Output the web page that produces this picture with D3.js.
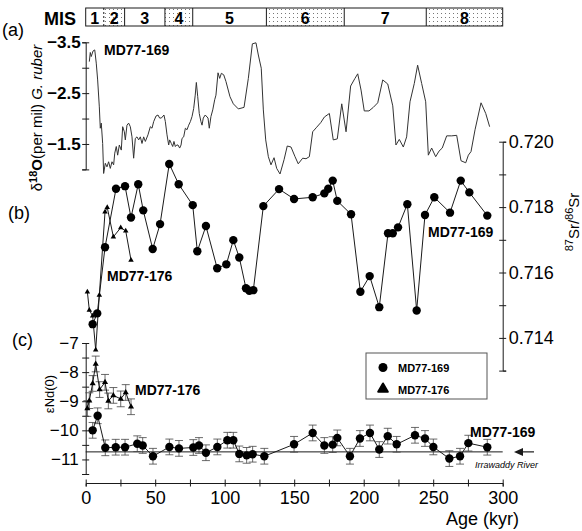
<!DOCTYPE html>
<html>
<head>
<meta charset="utf-8">
<script src="https://cdn.jsdelivr.net/npm/d3@7"></script>
<style>
  body { margin: 0; background: #fff; }
  svg { font-family: "Liberation Sans", Arial, sans-serif; }
</style>
</head>
<body>
<div id="svg-area"></div>
<script>
var svgWidth = 582;
var svgHeight = 531;

// MIS stages (kyr boundaries)
var misBounds = [0, 13, 28, 57, 77, 130, 186, 245, 300];
var misLabels = ["1", "2", "3", "4", "5", "6", "7", "8"];

// (a) d18O G. ruber, MD77-169
var o18Age = [2.6, 3.3, 4.0, 5.3, 6.5, 7.6, 8.6, 9.8, 10.5, 11.2, 12.2, 12.9, 14.1, 15.3, 16.5, 17.7, 18.9, 20.1, 20.9, 22.0,
  23.0, 24.2, 25.6, 26.6, 27.8, 28.5, 29.7, 30.9, 32.1, 33.3, 34.5, 35.7, 36.9, 38.1, 39.3, 40.5, 41.7, 42.9, 44.8, 46.5,
  47.7, 48.9, 50.6, 52.0, 53.2, 54.4, 56.3, 57.3, 58.5, 59.7, 60.4, 61.6, 62.6, 63.5, 64.5, 65.5, 66.4, 67.6, 68.6, 69.3,
  70.5, 71.7, 72.9, 74.1, 75.3, 76.5, 77.7, 78.8, 79.6, 80.6, 81.7, 82.9, 83.7, 84.6, 86.0, 88.0, 88.9, 90.1, 91.4, 92.8,
  93.7, 95.2, 96.4, 97.6, 99.3, 100.9, 103.8, 106.2, 109.8, 113.9, 117.0, 119.9, 122.5, 124.2, 126.3, 127.8, 129.5, 131.4,
  133.3, 135.5, 137.4, 139.8, 142.7, 145.0, 147.7, 150.6, 152.9, 156.1, 158.5, 160.9, 163.3, 166.2, 169.1, 171.7, 175.3,
  178.1, 181.0, 184.2, 187.3, 190.6, 193.7, 195.7, 198.1, 200.4, 203.8, 206.9, 210.1, 213.7, 217.3, 220.9, 223.2, 225.6,
  228.5, 230.9, 233.3, 236.4, 238.8, 241.7, 244.6, 246.5, 248.9, 251.8, 254.2, 256.5, 259.7, 263.3, 266.9, 270.0, 273.4,
  275.3, 277.2, 280.1, 284.4, 287.8, 290.6];
var o18Val = [-3.12, -3.30, -3.22, -3.33, -3.35, -3.09, -2.76, -2.23, -1.81, -1.91, -1.51, -0.92, -1.12, -1.05, -1.15, -1.02, -1.15, -1.09, -1.32, -1.45,
  -1.28, -1.48, -1.38, -1.84, -1.74, -1.58, -1.87, -1.91, -1.84, -1.64, -1.22, -1.61, -1.64, -1.58, -1.64, -1.51, -1.64, -1.55, -1.68, -1.84,
  -1.81, -1.94, -2.05, -2.07, -2.01, -2.01, -2.07, -1.94, -1.68, -1.48, -1.58, -1.51, -1.45, -1.55, -1.45, -1.48, -1.48, -1.42, -1.48, -1.61,
  -1.64, -1.81, -1.78, -1.87, -1.94, -2.04, -2.20, -2.46, -2.71, -2.43, -2.10, -1.94, -1.87, -2.01, -2.07, -2.01, -1.81, -2.04, -2.17, -2.37,
  -2.46, -2.90, -2.79, -2.89, -2.86, -2.73, -2.43, -2.29, -2.19, -2.22, -2.79, -3.47, -3.49, -3.25, -2.99, -2.17, -1.58, -1.25,
  -1.09, -1.23, -1.02, -0.91, -1.19, -1.46, -1.44, -1.25, -1.11, -1.22, -1.21, -1.25, -1.74, -1.83, -1.92, -2.03, -2.10,
  -1.58, -1.60, -2.29, -1.74, -2.64, -2.79, -2.88, -2.56, -2.15, -2.15, -2.22, -2.31, -2.76, -2.68, -2.25, -1.48, -1.59,
  -1.44, -1.64, -2.33, -2.69, -3.05, -2.69, -2.33, -1.28, -1.42, -1.25, -1.36, -1.42, -1.66, -1.66, -1.67, -1.17, -1.13,
  -1.28, -1.35, -1.78, -2.31, -2.10, -1.84];

// (b) 87Sr/86Sr
var sr169Age = [5.0, 8.3, 13.9, 21.8, 28.3, 32.6, 37.8, 41.4, 48.2, 53.5, 60.1, 66.9, 77.0, 80.3, 86.5, 94.6, 101.2, 106.2,
  110.5, 115.3, 117.7, 120.6, 127.8, 139.1, 149.9, 163.3, 171.7, 174.5, 177.7, 181.0, 190.9, 197.6, 204.3, 211.2, 217.5,
  220.9, 224.7, 231.4, 238.1, 244.1, 250.8, 262.1, 269.8, 276.0, 288.9];
var sr169Val = [0.71442, 0.71475, 0.71677, 0.71856, 0.71864, 0.71768, 0.71870, 0.71790, 0.71672, 0.71748, 0.71932, 0.71870,
  0.71806, 0.71665, 0.71742, 0.71613, 0.71625, 0.71699, 0.71646, 0.71552, 0.71544, 0.71546, 0.71803, 0.71855, 0.71825,
  0.71830, 0.71842, 0.71856, 0.71881, 0.71819, 0.71778, 0.71541, 0.71589, 0.71494, 0.71720, 0.71720, 0.71738, 0.71809,
  0.71484, 0.71776, 0.71830, 0.71783, 0.71881, 0.71845, 0.71774];
var sr176Age = [1.2, 2.6, 5.0, 7.2, 9.8, 13.9, 15.5, 19.9, 25.2, 28.8, 32.6];
var sr176Val = [0.71541, 0.71485, 0.71467, 0.71363, 0.71531, 0.71785, 0.71799, 0.71709, 0.71737, 0.71727, 0.71638];

// (c) eNd(0)
var nd169Age = [5.0, 8.6, 14.1, 21.6, 28.3, 37.1, 41.0, 48.4, 60.2, 67.1, 77.4, 81.5, 86.5, 94.7, 101.9, 106.2, 110.5,
  115.8, 120.1, 128.5, 149.9, 163.3, 171.7, 177.7, 181.0, 190.1, 197.3, 204.5, 211.2, 217.3, 223.7, 236.9, 244.1, 250.1,
  261.6, 269.3, 275.3, 288.9];
var nd169Val = [-10.0, -9.5, -10.6, -10.58, -10.58, -10.46, -10.52, -10.89, -10.57, -10.62, -10.59, -10.52, -10.77, -10.57,
  -10.34, -10.34, -10.81, -10.86, -10.82, -10.89, -10.48, -10.09, -10.52, -10.49, -10.26, -10.89, -10.28, -10.09, -10.66,
  -10.2, -10.48, -10.17, -10.28, -10.57, -10.97, -10.89, -10.44, -10.58];
var nd176Age = [1.2, 2.6, 5.0, 7.2, 10.0, 13.9, 16.3, 19.9, 25.2, 28.8, 32.6];
var nd176Val = [-9.25, -8.98, -8.39, -7.72, -8.6, -8.35, -8.99, -8.8, -8.92, -8.7, -9.19];
var ndErr = 0.27;
var irrawaddyNd = -10.74;

var svg = d3.select("#svg-area")
  .append("svg")
  .attr("width", svgWidth)
  .attr("height", svgHeight);

// scales
var x = d3.scaleLinear().domain([0, 300]).range([85.7, 502.7]);
var yA = d3.scaleLinear().domain([-3.5, -1.0]).range([42.3, 169.4]);
var yB = d3.scaleLinear().domain([0.713, 0.720]).range([370.6, 141.7]);
var yC = d3.scaleLinear().domain([-11.5, -7]).range([474.0, 343.0]);

var ink = "#1a1a1a";

function crossTicks(g, vertical) {
  g.select(".domain").attr("stroke", ink).attr("stroke-width", 1);
  g.selectAll(".tick line").attr("stroke", ink);
  if (vertical) g.selectAll(".tick line").attr("x1", -3.5).attr("x2", 3.5);
  else g.selectAll(".tick line").attr("y1", -3.5).attr("y2", 3.5);
}

// ---------- MIS bar ----------
var defs = svg.append("defs");
var pat = defs.append("pattern").attr("id", "stip").attr("patternUnits", "userSpaceOnUse")
  .attr("width", 4).attr("height", 4);
pat.append("rect").attr("x", 1).attr("y", 1).attr("width", 1).attr("height", 1).attr("fill", "#777");

var mis = svg.append("g");
misLabels.forEach(function(lab, i) {
  var x0 = x(misBounds[i]), x1 = x(misBounds[i + 1]);
  mis.append("rect").attr("x", x0).attr("y", 8).attr("width", x1 - x0).attr("height", 18)
    .attr("fill", i % 2 === 1 ? "url(#stip)" : "#fff").attr("stroke", "none");
  mis.append("text").attr("x", (x0 + x1) / 2).attr("y", 23.5).attr("text-anchor", "middle")
    .attr("font-size", 16).attr("font-weight", "bold").attr("fill", "#000").text(lab);
  if (i > 0) {
    mis.append("line").attr("x1", x0).attr("x2", x0).attr("y1", 8).attr("y2", 26)
      .attr("stroke", ink).attr("stroke-width", 1).attr("stroke-dasharray", i === 1 ? "2,2" : null);
  }
});
mis.append("rect").attr("x", x(0)).attr("y", 8).attr("width", x(300) - x(0)).attr("height", 18)
  .attr("fill", "none").attr("stroke", ink).attr("stroke-width", 1);
svg.append("text").attr("x", 44).attr("y", 25).attr("font-size", 18).attr("font-weight", "bold").text("MIS");

// ---------- (a) ----------
var axA = svg.append("g").attr("transform", "translate(" + x(0) + ",0)")
  .call(d3.axisLeft(yA).tickValues([-3.5, -3, -2.5, -2, -1.5, -1]).tickSize(3.5)
    .tickFormat(function(d) { return [-3.5, -2.5, -1.5].indexOf(d) >= 0 ? d3.format(".1f")(d) : ""; }));
axA.call(crossTicks, true);
axA.selectAll("text").attr("font-size", 17).attr("font-weight", "bold").attr("font-family", "Liberation Sans, Arial")
  .attr("fill", "#000").attr("x", -5);

var o18 = o18Age.map(function(a, i) { return [a, o18Val[i]]; });
svg.append("path").datum(o18)
  .attr("d", d3.line().x(function(d) { return x(d[0]); }).y(function(d) { return yA(d[1]); }))
  .attr("fill", "none").attr("stroke", "#333").attr("stroke-width", 1);

var labA = svg.append("text").attr("transform", "translate(42,118) rotate(-90)")
  .attr("text-anchor", "middle").attr("font-size", 15);
labA.append("tspan").text("δ");
labA.append("tspan").attr("dy", -5).attr("font-size", 11).attr("font-weight", "bold").text("18");
labA.append("tspan").attr("dy", 5).attr("font-weight", "bold").text("O");
labA.append("tspan").text("(per mil) ");
labA.append("tspan").attr("font-style", "italic").text("G. ruber");

svg.append("text").attr("x", 2).attr("y", 36).attr("font-size", 18).text("(a)");
svg.append("text").attr("x", 104).attr("y", 55).attr("font-size", 14).attr("font-weight", "bold").text("MD77-169");

// ---------- (b) ----------
var axB = svg.append("g").attr("transform", "translate(" + x(300) + ",0)")
  .call(d3.axisRight(yB).tickValues([0.713, 0.714, 0.715, 0.716, 0.717, 0.718, 0.719, 0.720]).tickSize(3.5)
    .tickFormat(function(d) { return [0.714, 0.716, 0.718, 0.720].indexOf(Math.round(d * 1000) / 1000) >= 0 ? d3.format(".3f")(d) : ""; }));
axB.call(crossTicks, true);
axB.selectAll("text").attr("font-size", 18).attr("font-family", "Liberation Sans, Arial").attr("fill", "#000").attr("x", 6);

var lineB = d3.line().x(function(d) { return x(d[0]); }).y(function(d) { return yB(d[1]); });
var sr169 = sr169Age.map(function(a, i) { return [a, sr169Val[i]]; });
var sr176 = sr176Age.map(function(a, i) { return [a, sr176Val[i]]; });
svg.append("path").datum(sr176).attr("d", lineB).attr("fill", "none").attr("stroke", ink).attr("stroke-width", 1);
svg.append("path").datum(sr169).attr("d", lineB).attr("fill", "none").attr("stroke", ink).attr("stroke-width", 1);
svg.append("g").selectAll("path").data(sr176).join("path")
  .attr("transform", function(d) { return "translate(" + x(d[0]) + "," + yB(d[1]) + ")"; })
  .attr("d", d3.symbol(d3.symbolTriangle, 13)).attr("fill", "#000");
svg.append("g").selectAll("circle").data(sr169).join("circle")
  .attr("cx", function(d) { return x(d[0]); }).attr("cy", function(d) { return yB(d[1]); })
  .attr("r", 4.2).attr("fill", "#000");

var labB = svg.append("text").attr("transform", "translate(579,222) rotate(-90)")
  .attr("text-anchor", "middle").attr("font-size", 15);
labB.append("tspan").attr("dy", -6).attr("font-size", 11).text("87");
labB.append("tspan").attr("dy", 6).text("Sr/");
labB.append("tspan").attr("dy", -6).attr("font-size", 11).text("86");
labB.append("tspan").attr("dy", 6).text("Sr");

svg.append("text").attr("x", 8).attr("y", 219).attr("font-size", 18).text("(b)");
svg.append("text").attr("x", 107).attr("y", 281).attr("font-size", 14).attr("font-weight", "bold").text("MD77-176");
svg.append("text").attr("x", 428).attr("y", 237).attr("font-size", 14).attr("font-weight", "bold").text("MD77-169");

// ---------- (c) ----------
var axC = svg.append("g").attr("transform", "translate(" + x(0) + ",0)")
  .call(d3.axisLeft(yC).tickValues(d3.range(-11.5, -6.9, 0.5)).tickSize(3.5)
    .tickFormat(function(d) { return d % 1 === 0 ? d3.format("d")(d) : ""; }));
axC.call(crossTicks, true);
axC.selectAll("text").attr("font-size", 17).attr("font-family", "Liberation Sans, Arial").attr("fill", "#000").attr("x", -7);

svg.append("line").attr("x1", x(0)).attr("x2", x(300)).attr("y1", yC(irrawaddyNd)).attr("y2", yC(irrawaddyNd))
  .attr("stroke", ink).attr("stroke-width", 1);
svg.append("line").attr("x1", 520).attr("x2", 534).attr("y1", yC(irrawaddyNd)).attr("y2", yC(irrawaddyNd))
  .attr("stroke", ink).attr("stroke-width", 1.2);
svg.append("path").attr("d", "M514," + yC(irrawaddyNd) + "l9,-4l0,8z").attr("fill", ink);
svg.append("text").attr("x", 475).attr("y", 468).attr("font-size", 9).attr("font-style", "italic").text("Irrawaddy  River");

var lineC = d3.line().x(function(d) { return x(d[0]); }).y(function(d) { return yC(d[1]); });
var nd169 = nd169Age.map(function(a, i) { return [a, nd169Val[i]]; });
var nd176 = nd176Age.map(function(a, i) { return [a, nd176Val[i]]; });

function errBars(data) {
  var g = svg.append("g").attr("stroke", "#444").attr("stroke-width", 0.8);
  data.forEach(function(d) {
    var cx = x(d[0]);
    g.append("line").attr("x1", cx).attr("x2", cx).attr("y1", yC(d[1] - ndErr)).attr("y2", yC(d[1] + ndErr));
    g.append("line").attr("x1", cx - 4).attr("x2", cx + 4).attr("y1", yC(d[1] - ndErr)).attr("y2", yC(d[1] - ndErr));
    g.append("line").attr("x1", cx - 4).attr("x2", cx + 4).attr("y1", yC(d[1] + ndErr)).attr("y2", yC(d[1] + ndErr));
  });
}
errBars(nd176);
errBars(nd169);
svg.append("path").datum(nd176).attr("d", lineC).attr("fill", "none").attr("stroke", ink).attr("stroke-width", 1);
svg.append("path").datum(nd169).attr("d", lineC).attr("fill", "none").attr("stroke", ink).attr("stroke-width", 1);
svg.append("g").selectAll("path").data(nd176).join("path")
  .attr("transform", function(d) { return "translate(" + x(d[0]) + "," + yC(d[1]) + ")"; })
  .attr("d", d3.symbol(d3.symbolTriangle, 16)).attr("fill", "#000");
svg.append("g").selectAll("circle").data(nd169).join("circle")
  .attr("cx", function(d) { return x(d[0]); }).attr("cy", function(d) { return yC(d[1]); })
  .attr("r", 4.2).attr("fill", "#000");

svg.append("text").attr("transform", "translate(54,394) rotate(-90)").attr("text-anchor", "middle")
  .attr("font-size", 13).text("εNd(0)");
svg.append("text").attr("x", 12).attr("y", 346).attr("font-size", 18).text("(c)");
svg.append("text").attr("x", 135).attr("y", 395).attr("font-size", 14).attr("font-weight", "bold").text("MD77-176");
svg.append("text").attr("x", 470).attr("y", 437).attr("font-size", 14).attr("font-weight", "bold").text("MD77-169");

// legend
var leg = svg.append("g");
leg.append("rect").attr("x", 366).attr("y", 353).attr("width", 121).attr("height", 46)
  .attr("fill", "#fff").attr("stroke", "#555").attr("stroke-width", 1);
leg.append("circle").attr("cx", 383).attr("cy", 367.5).attr("r", 4.5).attr("fill", "#000");
leg.append("path").attr("transform", "translate(383,389)").attr("d", d3.symbol(d3.symbolTriangle, 40)).attr("fill", "#000")
  .attr("stroke", "#000").attr("stroke-width", 2).attr("stroke-linejoin", "round");
leg.append("text").attr("x", 398).attr("y", 372).attr("font-size", 11).attr("font-weight", "bold").text("MD77-169");
leg.append("text").attr("x", 398).attr("y", 394).attr("font-size", 11).attr("font-weight", "bold").text("MD77-176");

// ---------- x axis ----------
var axX = svg.append("g").attr("transform", "translate(0,483)")
  .call(d3.axisBottom(x).tickValues(d3.range(0, 301, 25)).tickSize(3.5)
    .tickFormat(function(d) { return d % 50 === 0 ? d : ""; }));
axX.call(crossTicks, false);
axX.selectAll("text").attr("font-size", 18).attr("font-family", "Liberation Sans, Arial").attr("fill", "#000").attr("y", 8);
svg.append("text").attr("x", 519).attr("y", 525).attr("text-anchor", "end").attr("font-size", 18).text("Age (kyr)");
</script>
</body>
</html>
